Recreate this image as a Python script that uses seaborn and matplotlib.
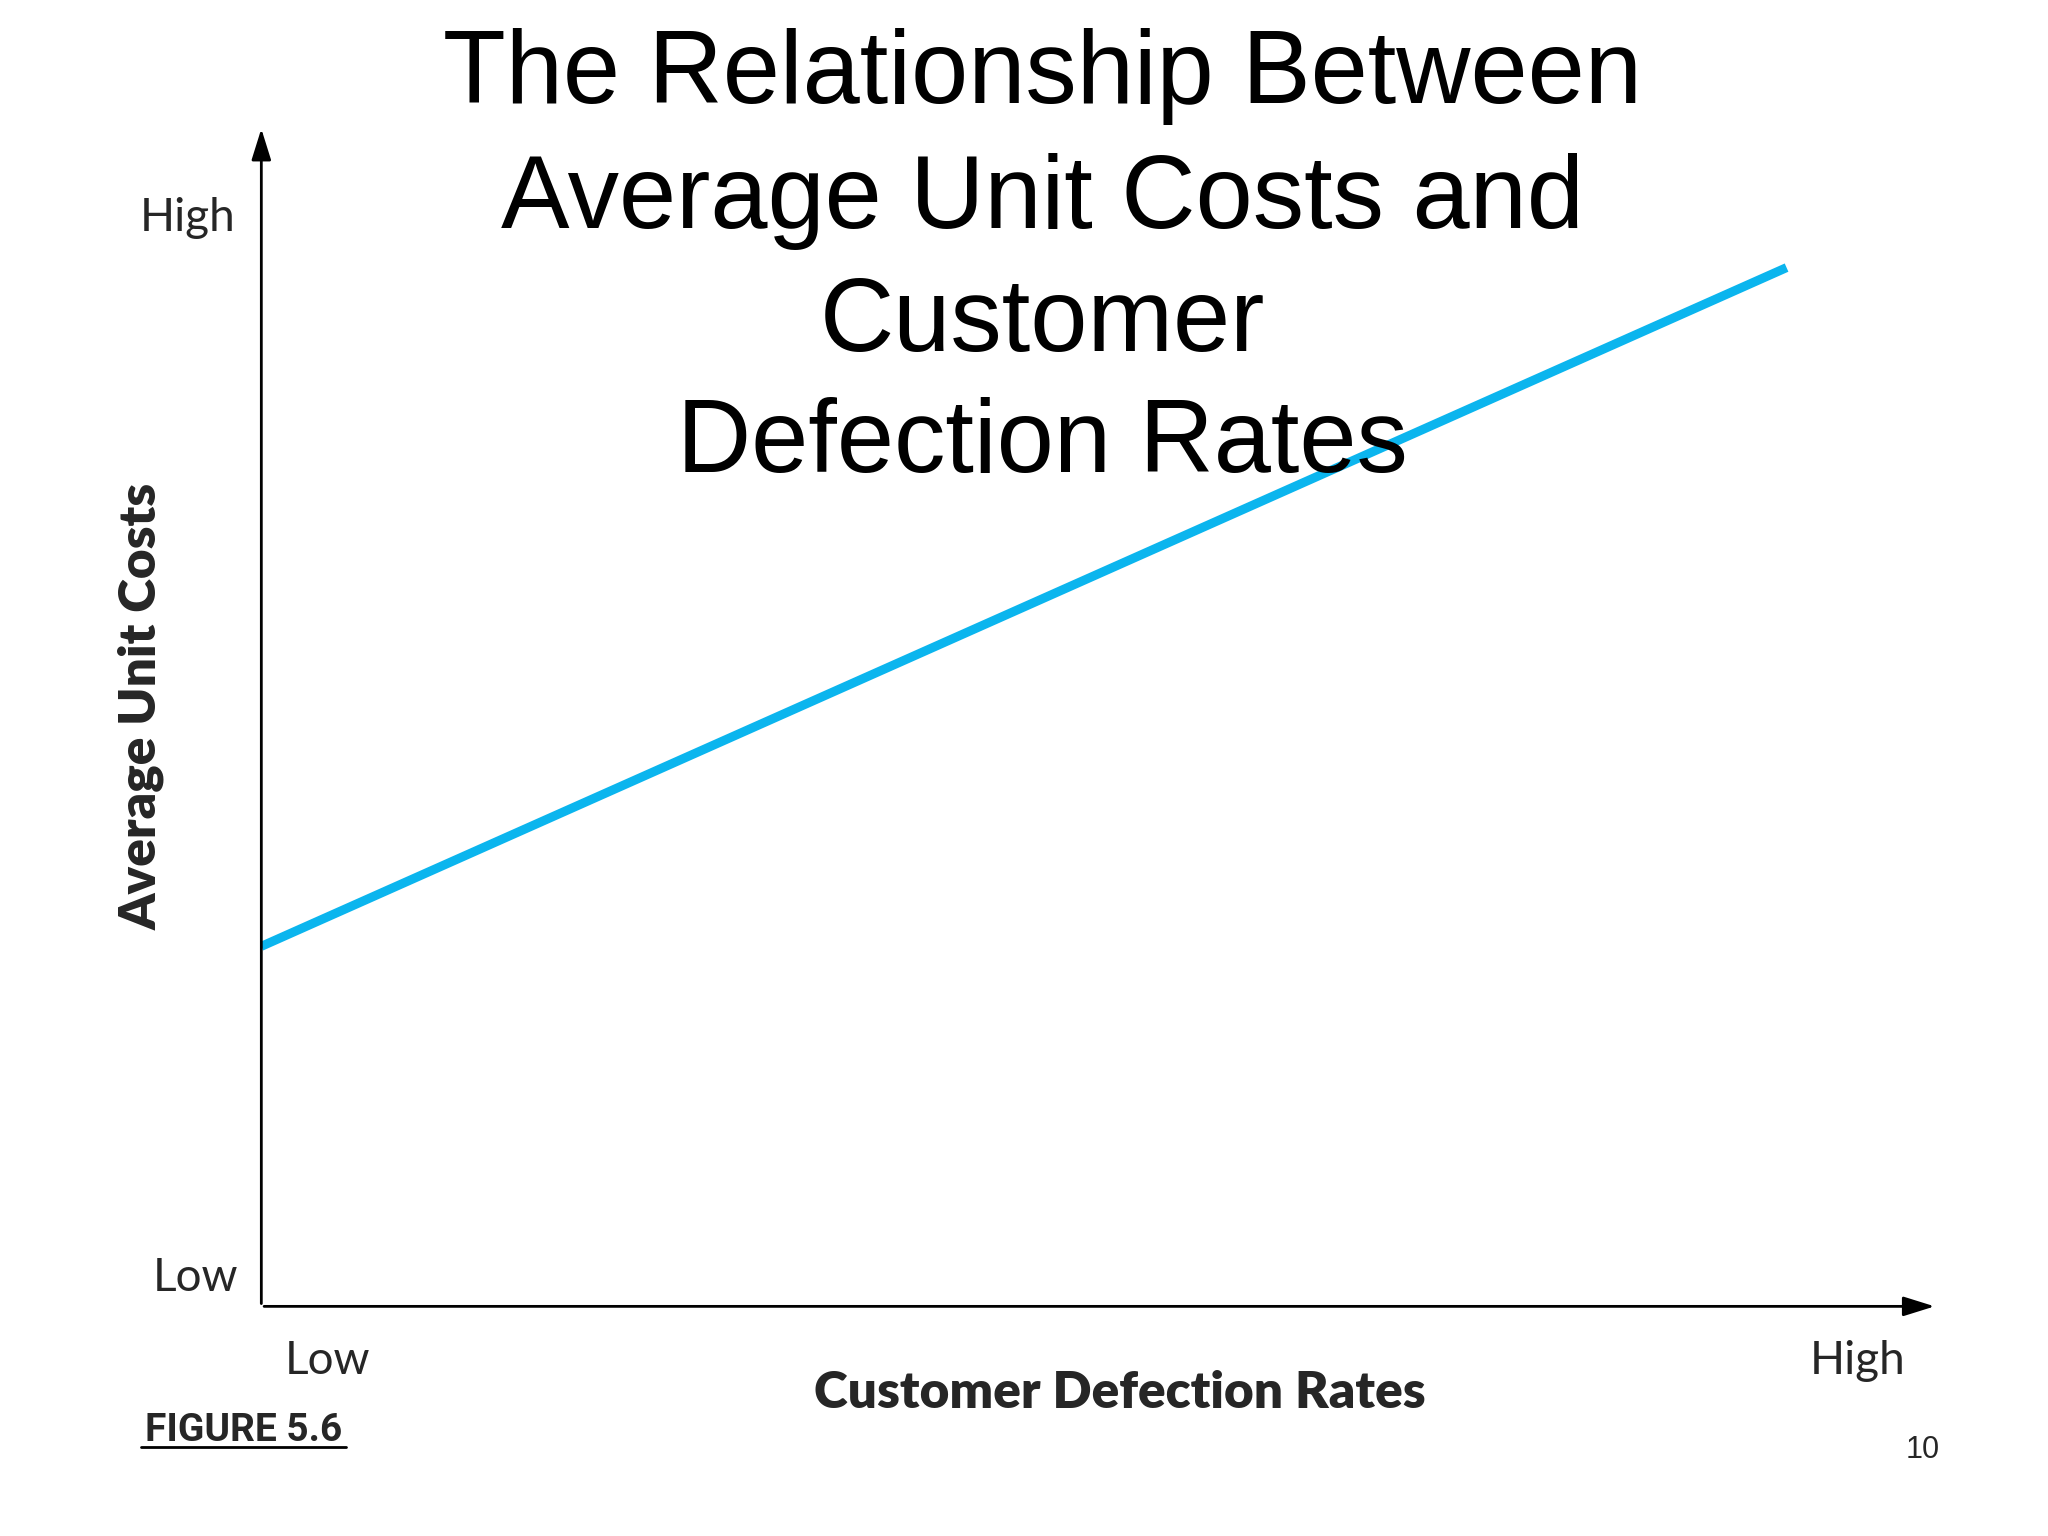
import matplotlib
matplotlib.use("Agg")
import matplotlib.pyplot as plt
import seaborn as sns
import pandas as pd

defection = [0.0, 0.91]
unit_cost = [0.305, 0.88]
title_lines = ["The Relationship Between", "Average Unit Costs and", "Customer", "Defection Rates"]

sns.set_theme(style="white")
plt.rcParams['font.family'] = ['Liberation Sans', 'DejaVu Sans']

fig = plt.figure(figsize=(20.48, 15.36), dpi=100)
ax = fig.add_axes([0.1276, 0.1495, 0.8184, 0.7685])
df = pd.DataFrame({"x": defection, "y": unit_cost})
sns.lineplot(data=df, x="x", y="y", ax=ax, color="#0BB5EE", linewidth=6.5, solid_capstyle="butt")
ax.set_xlim(0, 1); ax.set_ylim(0, 1)
for s in ax.spines.values():
    s.set_visible(False)
ax.set_xticks([]); ax.set_yticks([])
ax.set_xlabel(""); ax.set_ylabel("")
ax.annotate("", xy=(1.0, 0), xytext=(0, 0), xycoords="axes fraction",
            arrowprops=dict(arrowstyle="-|>,head_length=1.6,head_width=0.5", color="black", lw=2))
ax.annotate("", xy=(0, 1.0), xytext=(0, 0), xycoords="axes fraction",
            arrowprops=dict(arrowstyle="-|>,head_length=1.6,head_width=0.5", color="black", lw=2))

ys = [0.95, 0.869, 0.789, 0.710]
for t, y in zip(title_lines, ys):
    fig.text(0.509, y, t, ha="center", va="center", fontsize=74, color="black")

lf = ['Lato', 'DejaVu Sans']
fig.text(0.0915, 0.858, "High", ha="center", va="center", fontsize=33, family=lf)
fig.text(0.0955, 0.168, "Low", ha="center", va="center", fontsize=33, family=lf)
fig.text(0.160, 0.114, "Low", ha="center", va="center", fontsize=33, family=lf)
fig.text(0.907, 0.114, "High", ha="center", va="center", fontsize=33, family=lf)
fig.text(0.547, 0.093, "Customer Defection Rates", ha="center", va="center", fontsize=37, fontweight="heavy", family=lf)
fig.text(0.069, 0.54, "Average Unit Costs", ha="center", va="center", rotation=90, fontsize=37, fontweight="heavy", family=lf)
fig.text(0.119, 0.069, "FIGURE 5.6", ha="center", va="center", fontsize=28, fontweight="bold",
         fontstretch="condensed", family=['Roboto', 'DejaVu Sans'])
fig.text(0.939, 0.056, "10", ha="center", va="center", fontsize=22)
fig.add_artist(plt.Line2D([0.069, 0.169], [0.058, 0.058], transform=fig.transFigure, color="black", lw=2))

fig.savefig("out.png", dpi=100, facecolor="white")
